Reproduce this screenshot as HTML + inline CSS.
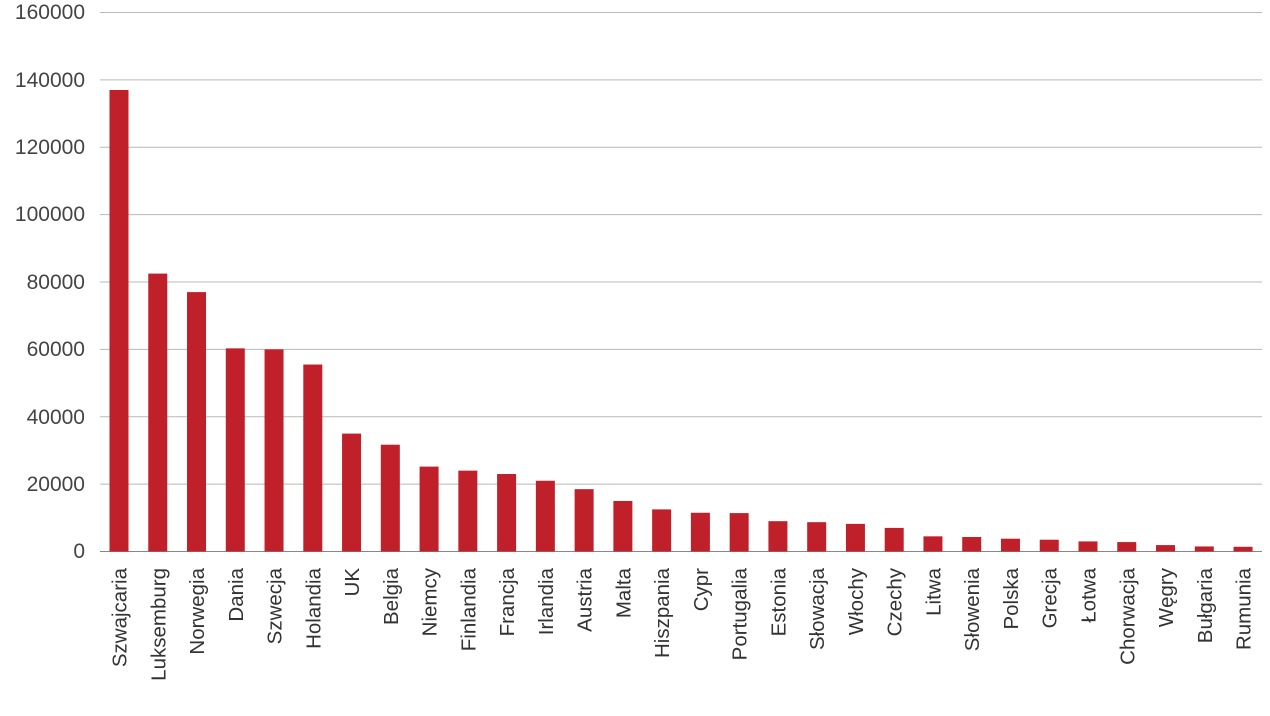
<!DOCTYPE html>
<html><head><meta charset="utf-8"><style>
html,body{margin:0;padding:0;background:#fff;}
svg{display:block;font-family:"Liberation Sans",sans-serif;}
</style></head><body>
<svg width="1270" height="716" viewBox="0 0 1270 716">
<g stroke="#b8b8b8" stroke-width="1">
<line x1="100" x2="1262" y1="12.5" y2="12.5"/>
<line x1="100" x2="1262" y1="79.9" y2="79.9"/>
<line x1="100" x2="1262" y1="147.3" y2="147.3"/>
<line x1="100" x2="1262" y1="214.6" y2="214.6"/>
<line x1="100" x2="1262" y1="282" y2="282"/>
<line x1="100" x2="1262" y1="349.4" y2="349.4"/>
<line x1="100" x2="1262" y1="416.8" y2="416.8"/>
<line x1="100" x2="1262" y1="484.1" y2="484.1"/>
<line x1="100" x2="1262" y1="551.5" y2="551.5" stroke="#888"/>
</g>
<g font-size="21" fill="#444" text-anchor="end">
<text x="85" y="19">160000</text>
<text x="85" y="87">140000</text>
<text x="85" y="154">120000</text>
<text x="85" y="221">100000</text>
<text x="85" y="289">80000</text>
<text x="85" y="356">60000</text>
<text x="85" y="424">40000</text>
<text x="85" y="491">20000</text>
<text x="85" y="558">0</text>
</g>
<g id="bars" fill="#c0202a"></g>
<g id="labels" font-size="20.5" fill="#333" text-anchor="end"></g>
<script>
var d=[["Szwajcaria",137000],["Luksemburg",82500],["Norwegia",77000],["Dania",60300],["Szwecja",60000],["Holandia",55500],["UK",35000],["Belgia",31700],["Niemcy",25200],["Finlandia",24000],["Francja",23000],["Irlandia",21000],["Austria",18500],["Malta",15000],["Hiszpania",12500],["Cypr",11500],["Portugalia",11400],["Estonia",9000],["Słowacja",8700],["Włochy",8200],["Czechy",7000],["Litwa",4500],["Słowenia",4300],["Polska",3800],["Grecja",3500],["Łotwa",3000],["Chorwacja",2800],["Węgry",1900],["Bułgaria",1500],["Rumunia",1400]];
var ns="http://www.w3.org/2000/svg",b=document.getElementById("bars"),l=document.getElementById("labels");
d.forEach(function(e,i){var cx=119+i*38.76,h=e[1]/160000*539;
var r=document.createElementNS(ns,"rect");r.setAttribute("x",cx-9.5);r.setAttribute("width",19);r.setAttribute("y",551.5-h);r.setAttribute("height",h);b.appendChild(r);
var t=document.createElementNS(ns,"text");t.setAttribute("transform","translate("+(cx+7.5)+",568) rotate(-90)");t.textContent=e[0];l.appendChild(t);});
</script>
</svg>
</body></html>
